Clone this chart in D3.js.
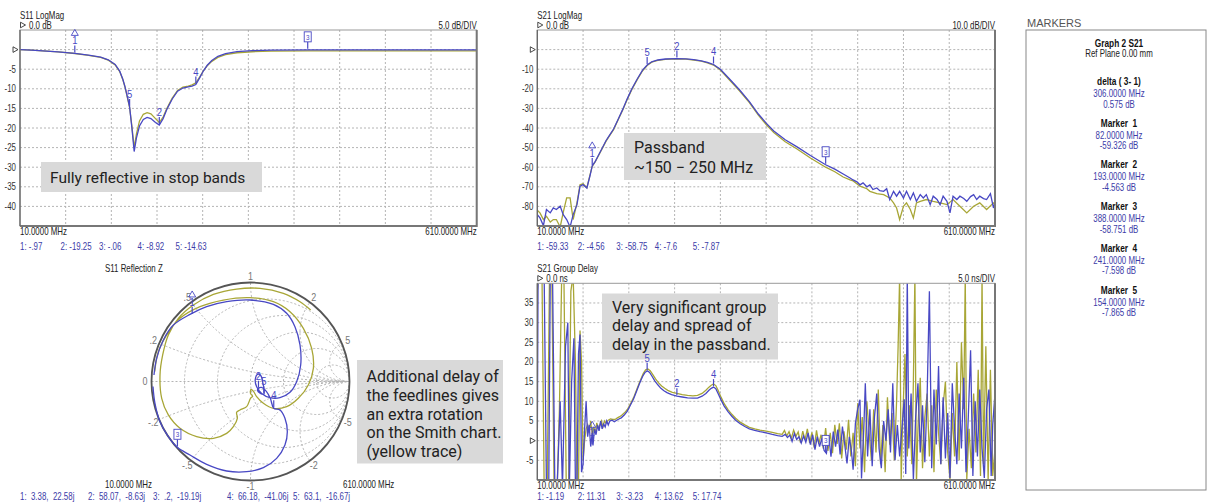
<!DOCTYPE html>
<html>
<head>
<meta charset="utf-8">
<script src="https://cdn.jsdelivr.net/npm/d3@7"></script>
<style>
  body { margin: 0; background: #fff; }
  svg { display: block; }
  .inst { font-family: 'Liberation Sans', Arial, sans-serif; }
  .note { font-family: Roboto, 'Open Sans', sans-serif; }
</style>
</head>
<body>
<div id="chart"></div>
<script>
// ---- sweep / markers ----
const sweepStart = 10, sweepStop = 610;
const gridFreqs = [70, 130, 190, 250, 310, 370, 430, 490, 550];
const markerNames = ["1", "2", "3", "4", "5"];
const markerKinds = ["delta", "plain", "box", "plain", "plain"];
const markerFreqs = [82, 193, 388, 241, 154];

// ---- S11 LogMag (dB) ----
const s11Ticks = [0, -5, -10, -15, -20, -25, -30, -35, -40];
const s11Blue = [[10,0],[25,-0.15],[40,-0.3],[60,-0.6],[82,-0.97],[100,-1.4],[116,-1.9],[126,-2.6],[135,-3.8],[141,-5.5],[145,-7.5],[148,-9.5],[151,-12],[154,-14.63],[157,-20],[160,-26],[163,-22.5],[167,-19.5],[172,-17.8],[177,-17.3],[182,-17.6],[188,-18.6],[193,-19.25],[198,-17.6],[203,-15.2],[210,-12.6],[217,-10.6],[224,-9.8],[231,-9.5],[236,-9.3],[241,-8.92],[246,-7.2],[251,-5.4],[256,-4.0],[262,-2.8],[270,-1.7],[280,-1.0],[295,-0.5],[315,-0.25],[340,-0.12],[388,-0.06],[450,-0.05],[530,-0.05],[610,-0.05]];
const s11Yellow = [[10,0],[25,-0.15],[40,-0.3],[60,-0.6],[82,-1.0],[100,-1.45],[116,-2.0],[126,-2.7],[135,-3.9],[141,-5.6],[145,-7.6],[148,-9.6],[151,-12.2],[154,-14.8],[157,-19.5],[160,-25],[163,-21.5],[167,-18.2],[172,-16.5],[177,-16.1],[182,-16.4],[188,-17.6],[193,-18.6],[198,-17.2],[203,-15.0],[210,-12.4],[217,-10.4],[224,-9.6],[231,-9.3],[236,-9.0],[241,-8.5],[246,-7.0],[251,-5.4],[256,-4.1],[262,-3.0],[270,-2.0],[280,-1.3],[295,-0.8],[315,-0.55],[340,-0.4],[388,-0.32],[450,-0.3],[530,-0.3],[610,-0.3]];
const s11MarkerVals = [-0.97, -19.25, -0.06, -8.92, -14.63];
const s11Readout = ["1: -.97", "2: -19.25", "3: -.06", "4: -8.92", "5: -14.63"];

// ---- S21 LogMag (dB) ----
const s21Ticks = [0, -10, -20, -30, -40, -50, -60, -70, -80];
const s21Blue = [[10,-84.2],[13.5,-85.9],[18,-89.8],[22,-81.6],[27,-83.3],[31,-80.8],[35,-81.6],[40,-79.9],[44,-84.2],[48.5,-86.7],[53,-90.5],[57,-84.2],[62,-79.1],[66,-69.7],[70,-68.9],[75,-70.6],[79,-64.5],[82,-59.3],[86,-57],[90,-54],[95,-50.3],[100,-46.5],[105,-43.5],[110,-40.5],[116,-35.5],[122,-30.5],[128,-25],[134,-20],[141,-15],[148,-10.5],[154,-7.87],[160,-6.2],[168,-5.3],[178,-4.8],[193,-4.56],[205,-4.7],[215,-5.1],[225,-5.7],[233,-6.5],[241,-7.6],[250,-10],[262,-15],[275,-20.5],[288,-26.5],[300,-33],[310,-37.5],[320,-41.5],[335,-46],[350,-49.5],[368,-54],[388,-58.75],[400,-61],[411,-63.5],[420,-65.5],[424,-66.5],[429,-67.5],[433,-69],[437,-68],[442,-70],[446,-69],[450,-71.4],[455,-70.6],[459,-72],[464,-72.3],[468,-71],[472,-76.5],[477,-72.3],[481,-74.8],[485,-72.3],[490,-75.7],[494,-72.3],[499,-76.5],[503,-73.1],[507,-77.4],[512,-74],[516,-75.7],[520,-74],[525,-79.1],[529,-74.8],[534,-76.5],[538,-79.1],[542,-74.8],[547,-77.4],[551,-83.3],[555,-74.8],[560,-76.5],[564,-74.8],[569,-76],[573,-77.4],[578,-75],[582,-74],[586,-76.5],[590,-74.8],[595,-76],[599,-76.5],[604,-73.5],[608,-80.8],[610,-78]];
const s21Yellow = [[10,-82],[13.5,-83.3],[18,-86.7],[22,-85],[27,-88],[31,-86.7],[35,-86.7],[40,-90.5],[44,-83],[48.5,-75.7],[53,-75.7],[57,-86.7],[62,-78.2],[66,-69],[70,-68.5],[75,-70.5],[79,-64],[82,-59.6],[86,-57.2],[90,-54.3],[95,-50.5],[100,-46.8],[105,-43.8],[110,-40.8],[116,-35.8],[122,-30.8],[128,-25.3],[134,-20.3],[141,-15.3],[148,-10.8],[154,-8.1],[160,-6.4],[168,-5.5],[178,-5.0],[193,-4.75],[205,-4.9],[215,-5.3],[225,-5.9],[233,-6.8],[241,-7.9],[250,-10.4],[262,-15.5],[275,-21],[288,-27],[300,-33.6],[310,-38.2],[320,-42.3],[335,-47],[350,-50.6],[368,-55.3],[388,-60],[400,-62.3],[411,-65],[420,-66.5],[424,-67],[433,-69.7],[442,-71],[446,-72.3],[455,-73.5],[464,-74],[472,-75.7],[477,-78.2],[481,-80.8],[485,-86.7],[490,-79.9],[494,-78.2],[499,-81.6],[503,-85.9],[507,-78.2],[512,-77.4],[520,-76.5],[529,-77.4],[538,-78.2],[547,-79.1],[555,-76.5],[564,-79.9],[573,-83.3],[582,-79.9],[590,-78.2],[599,-81.6],[608,-78.2],[610,-79]];
const s21MarkerVals = [-59.33, -4.56, -58.75, -7.6, -7.87];
const s21Readout = ["1: -59.33", "2: -4.56", "3: -58.75", "4: -7.6", "5: -7.87"];

// ---- S21 Group Delay (ns) ----
const gdTicks = [35, 30, 25, 20, 15, 10, 5, 0, -5];
const gdBlue = [[10,-2],[11,42],[14,45],[17,40],[19,42],[22,-12],[25,-12],[27,42],[30,42],[33,-12],[36,-12],[40,10],[43,-12],[47,24],[50,30],[52,-12],[55,15],[58,26],[60,-12],[62,-12],[64,22],[66,27],[68,-8],[70,-6],[72,3],[74,10],[76,1],[78,4],[80,-1.5],[82,2],[83,-1.19],[85,3],[87,1.5],[89,4],[91,2.5],[93,5],[95,3],[97,4.2],[99,3.5],[101,5],[103,4],[105,5],[108,5.2],[111,4.8],[114,5.2],[117,5.5],[120,5.8],[124,6.5],[128,7.5],[132,9],[136,10.5],[140,12.5],[144,14.5],[148,16.3],[151,17.3],[154,17.74],[157,17.4],[160,16.5],[164,15.2],[168,14.2],[172,13.3],[176,12.7],[180,12.2],[186,11.7],[193,11.31],[200,11.1],[207,10.9],[214,10.8],[220,10.8],[226,11.3],[231,12.0],[235,12.8],[238,13.3],[241,13.62],[244,13.2],[247,12.0],[251,10.3],[255,8.8],[260,7.4],[265,6.2],[270,5.2],[276,4.3],[282,3.6],[288,3.0],[295,2.6],[302,2.3],[310,2.0],[318,1.6],[325,1.3],[331,1.1],[335,1.6],[338,0.8],[341,1.4],[344,-0.2],[347,1.8],[350,0.3],[353,1.0],[356,-0.6],[359,1.2],[362,-0.4],[365,2.0],[368,-1.0],[371,1.5],[374,-2.3],[377,1.0],[380,-1.5],[383,0.6],[386,-2.5],[389,-3.23],[392,1.4],[395,-4.1],[398,2.3],[401,-1.5],[404,2.8],[407,-3.5],[410,3.6],[413,-1],[416,-5.8],[419,1],[422,-3],[424,-7.4],[427,4.4],[430,8],[433,10.4],[435,-9.6],[438,3],[440,14.6],[443,-4],[446,8],[449,-6.5],[452,6],[455,12],[458,-2],[461,-7],[464,5],[467,0],[470,8],[473,-3],[476,14.6],[479,-5],[482,4],[485,-4],[488,3],[491,10.5],[493,-8.5],[495,42],[497,-2],[500,12],[503,-10],[506,6],[509,14.6],[512,-3],[515,9],[518,-5.5],[521,11],[524,38],[527,-7],[530,13],[533,-1],[536,19],[539,-6],[542,11],[545,-4.5],[548,7],[551,-9.5],[554,14.6],[557,3],[560,-6],[563,12],[566,-2],[569,16],[572,-8],[575,6],[578,23],[581,-9],[584,10],[587,-4],[590,13],[593,-2],[596,-9.5],[599,8],[602,13],[605,-9],[607,4],[610,12]];
const gdYellow = [[10,38],[13,44],[16,45],[19,-12],[23,-12],[26,42],[29,43],[32,-12],[36,-12],[39,8],[42,42],[45,40],[48,-12],[51,-12],[54,38],[57,42],[60,20],[62,-12],[64,-12],[66,28],[68,20],[70,-5],[72,0],[74,3],[76,4],[78,2],[80,5],[82,1],[84,3.5],[86,2],[88,4.5],[90,3],[92,4],[94,5],[96,3.5],[98,5],[100,4.5],[103,5.2],[106,5.5],[109,5.4],[112,5.4],[115,5.8],[118,6.1],[121,6.5],[125,7.2],[129,8.2],[133,9.7],[137,11.3],[141,13.3],[145,15.3],[149,17.1],[152,18.0],[155,18.2],[158,17.8],[161,16.9],[165,15.7],[169,14.7],[173,13.9],[177,13.3],[181,12.8],[187,12.3],[193,12.0],[200,11.7],[207,11.5],[214,11.4],[220,11.5],[226,12.0],[231,12.8],[235,13.6],[238,14.1],[241,14.4],[244,14.0],[247,12.8],[251,11.0],[255,9.4],[260,7.9],[265,6.7],[270,5.7],[276,4.7],[282,4.0],[288,3.4],[295,3.0],[302,2.7],[310,2.4],[318,2.1],[325,1.8],[331,1.6],[334,2.6],[337,1.2],[340,2.3],[343,0.6],[346,2.7],[349,1.1],[352,2.2],[355,-0.5],[358,2.4],[361,0.2],[364,3.0],[367,-0.6],[370,2.1],[373,-1.8],[376,2.6],[379,-0.8],[382,1.5],[385,-2.0],[388,3.2],[391,-2.6],[394,2.0],[397,-3.2],[400,4.0],[403,-0.8],[406,4.4],[409,-4.5],[412,2.4],[415,-2.3],[418,5.3],[421,-4.0],[424,2.0],[427,-6.5],[430,9.5],[433,-2],[436,6],[439,-8],[442,10],[445,2],[448,-5],[451,8],[454,-3],[457,13],[460,-6],[463,4],[466,-8],[469,11],[472,-1],[475,7],[478,-5],[481,10],[483,24],[485,42],[487,-10],[489,5],[492,22],[495,-4],[498,9],[501,-6],[503,15],[505,42],[507,-11],[509,3],[512,16],[515,-7],[518,6],[521,12],[524,-4],[527,9],[530,-8],[533,13],[536,2],[539,-6],[542,9],[545,15],[548,-3],[551,-10],[554,7],[557,-4],[560,20],[563,-5],[566,25],[569,8],[571,42],[573,-10],[576,3],[579,-7],[582,12],[585,-3],[588,18],[591,-9],[593,42],[595,-6],[598,24],[601,-10],[604,18],[607,-9],[610,-2]];
const gdMarkerVals = [-1.19, 11.31, -3.23, 13.62, 17.74];
const gdReadout = ["1: -1.19", "2: 11.31", "3: -3.23", "4: 13.62", "5: 17.74"];

// ---- S11 Smith chart (reflection coefficient re, im) ----
const smithGrid = [0.2, 0.5, 1, 2, 5];
const smithGridLabels = [".2", ".5", "1", "2", "5"];
const smithBlue = [[-0.975,0.066],[-0.948,0.234],[-0.880,0.419],[-0.779,0.570],[-0.611,0.678],[-0.443,0.756],[-0.241,0.806],[-0.005,0.823],[0.231,0.779],[0.365,0.689],[0.449,0.554],[0.500,0.369],[0.507,0.167],[0.466,-0.002],[0.399,-0.109],[0.298,-0.163],[0.197,-0.163],[0.113,-0.120],[0.062,-0.052],[0.048,0.020],[0.075,0.075],[0.105,0.058],[0.122,0.0],[0.135,-0.127],[0.100,-0.120],[0.070,-0.090],[0.080,-0.070],[0.110,-0.060],[0.160,-0.100],[0.200,-0.170],[0.235,-0.270],[0.298,-0.288],[0.348,-0.372],[0.372,-0.507],[0.348,-0.641],[0.264,-0.776],[0.130,-0.870],[-0.039,-0.911],[-0.241,-0.904],[-0.443,-0.837],[-0.611,-0.743],[-0.739,-0.665],[-0.830,-0.557],[-0.914,-0.406],[-0.965,-0.220],[-0.985,-0.050]];
const smithYellow = [[-0.968,0.099],[-0.931,0.301],[-0.847,0.470],[-0.712,0.638],[-0.510,0.756],[-0.274,0.823],[-0.005,0.847],[0.231,0.806],[0.399,0.705],[0.534,0.537],[0.618,0.335],[0.635,0.133],[0.584,-0.035],[0.483,-0.170],[0.365,-0.254],[0.231,-0.271],[0.130,-0.220],[0.062,-0.153],[0.030,-0.100],[0.005,-0.080],[0.000,-0.120],[0.020,-0.150],[0.000,-0.170],[-0.039,-0.254],[-0.106,-0.288],[-0.140,-0.311],[-0.133,-0.372],[-0.173,-0.456],[-0.241,-0.524],[-0.375,-0.574],[-0.544,-0.557],[-0.712,-0.473],[-0.830,-0.338],[-0.897,-0.170],[-0.914,0.066],[-0.887,0.268],[-0.830,0.470],[-0.729,0.638],[-0.577,0.773],[-0.375,0.880],[-0.140,0.934],[0.096,0.941],[0.332,0.891],[0.500,0.806],[0.608,0.722]];
const smithMarkerZ = [[3.38,22.58],[58.07,-8.63],[0.2,-19.19],[66.18,-41.06],[63.1,-16.67]];
const smithReadout = ["1:  3.38,  22.58j", "2:  58.07,  -8.63j", "3:  .2,  -19.19j", "4:  66.18,  -41.06j", "5:  63.1,  -16.67j"];
const z0 = 50;

// ---- markers panel ----
const panelHead = ["Graph 2 S21", "Ref Plane 0.00 mm"];
const panelTitles = ["delta ( 3- 1)", "Marker  1", "Marker  2", "Marker  3", "Marker  4", "Marker  5"];
const panelFreqs = ["306.0000 MHz", "82.0000 MHz", "193.0000 MHz", "388.0000 MHz", "241.0000 MHz", "154.0000 MHz"];
const panelVals = ["0.575 dB", "-59.326 dB", "-4.563 dB", "-58.751 dB", "-7.598 dB", "-7.865 dB"];

// ---- notes ----
const noteS11 = ["Fully reflective in stop bands"];
const noteS21 = ["Passband", "~150 \u2212 250 MHz"];
const noteGD = ["Very significant group", "delay and spread of", "delay in the passband."];
const noteSmith = ["Additional delay of", "the feedlines gives", "an extra rotation", "on the Smith chart.", "(yellow trace)"];

const blue = "#4848c4", yellow = "#a8a636", readBlue = "#3c3ca8", gridCol = "#b4b4b4";
const squeeze = 0.79;   // instrument font is a narrow sans

const svg = d3.select("#chart").append("svg")
  .attr("width", 1209)
  .attr("height", 502);

let clipCount = 0;

// narrow instrument-style text
function label(g, x, y, str, opt) {
  opt = opt || {};
  return g.append("text")
    .attr("transform", `translate(${x},${y}) scale(${opt.sq || squeeze},1)`)
    .attr("text-anchor", opt.anchor || "start")
    .attr("font-size", opt.size || 10)
    .attr("font-weight", opt.bold ? "bold" : null)
    .attr("fill", opt.fill || "#222")
    .attr("xml:space", "preserve")
    .text(str);
}

function refTriangle(g, x, y) {
  g.append("path")
    .attr("d", `M${x},${y - 2.8} L${x + 5},${y} L${x},${y + 2.8} Z`)
    .attr("fill", "none").attr("stroke", "#333").attr("stroke-width", 0.9);
}

function drawMarker(g, px, py, i, tick) {
  const kind = markerKinds[i];
  const t = tick || 8;
  g.append("line")
    .attr("x1", px).attr("x2", px).attr("y1", py - 1).attr("y2", py - t)
    .attr("stroke", blue).attr("stroke-width", 1.2);
  if (kind === "box") {
    g.append("rect")
      .attr("x", px - 3.5).attr("y", py - t - 10).attr("width", 7).attr("height", 10)
      .attr("fill", "#fff").attr("stroke", blue).attr("stroke-width", 0.9);
    label(g, px, py - t - 2, markerNames[i], { anchor: "middle", size: 8, fill: blue });
  } else {
    label(g, px, py - t - 1, markerNames[i], { anchor: "middle", size: 10.5, fill: blue, sq: 0.9 });
    if (kind === "delta") {
      const ty = py - t - 13;
      g.append("path")
        .attr("d", `M${px},${ty - 3} L${px + 3.5},${ty + 3} L${px - 3.5},${ty + 3} Z`)
        .attr("fill", "none").attr("stroke", blue).attr("stroke-width", 0.9);
    }
  }
}

function rectPlot(o) {
  const x = d3.scaleLinear().domain([sweepStart, sweepStop]).range([o.left, o.left + o.width]);
  const y = d3.scaleLinear().domain(o.yDomain).range([o.top + o.height, o.top]);
  const g = svg.append("g").attr("class", "inst");

  // grid
  g.selectAll(".vg").data(gridFreqs).join("line")
    .attr("x1", d => x(d)).attr("x2", d => x(d))
    .attr("y1", o.top).attr("y2", o.top + o.height)
    .attr("stroke", gridCol).attr("stroke-dasharray", "2,2");
  g.selectAll(".hg").data(o.yTicks).join("line")
    .attr("x1", o.left).attr("x2", o.left + o.width)
    .attr("y1", d => y(d)).attr("y2", d => y(d))
    .attr("stroke", gridCol).attr("stroke-dasharray", "2,2");

  // y labels
  o.yTicks.filter(d => d !== 0).forEach(d => {
    label(g, o.left - 4, y(d) + 3.5, String(d), { anchor: "end", fill: "#333" });
  });
  refTriangle(g, o.left - 7, y(0));

  // headers
  label(g, o.left, o.top - 11.5, o.title);
  refTriangle(g, o.left + 0.5, o.top - 5);
  label(g, o.left + 9, o.top - 1.5, o.refText);
  label(g, o.left + o.width, o.top - 1.5, o.scaleText, { anchor: "end" });
  label(g, o.left, o.top + o.height + 8.5, "10.0000 MHz");
  label(g, o.left + o.width, o.top + o.height + 8.5, "610.0000 MHz", { anchor: "end" });

  // readouts
  o.readout.forEach((d, i) => {
    label(g, o.left + [0, 40.5, 79, 117.5, 155.5][i], o.top + o.height + o.roDy, d, { fill: readBlue });
  });

  // note box (under traces)
  const nb = o.note;
  g.append("rect").attr("x", nb.x).attr("y", nb.y).attr("width", nb.w).attr("height", nb.h)
    .attr("fill", "#d9d9d9");
  g.append("g").attr("class", "note").selectAll("text").data(nb.lines).join("text")
    .attr("x", nb.x + nb.pad).attr("y", (d, i) => nb.y + nb.base + i * nb.lh)
    .attr("font-size", nb.size).attr("fill", "#222").text(d => d);

  // traces
  const id = "clip" + (clipCount++);
  svg.append("clipPath").attr("id", id).append("rect")
    .attr("x", o.left).attr("y", o.top).attr("width", o.width).attr("height", o.height);
  const line = d3.line().x(d => x(d[0])).y(d => y(d[1]));
  const tg = g.append("g").attr("clip-path", `url(#${id})`);
  tg.append("path").datum(o.yellow).attr("d", line)
    .attr("fill", "none").attr("stroke", yellow).attr("stroke-width", 1.3);
  tg.append("path").datum(o.blue).attr("d", line)
    .attr("fill", "none").attr("stroke", blue).attr("stroke-width", 1.3);

  // frame
  g.append("rect").attr("x", o.left).attr("y", o.top).attr("width", o.width).attr("height", o.height)
    .attr("fill", "none").attr("stroke", "#9a9a9a");
  g.append("path")
    .attr("d", `M${o.left},${o.top + o.height} H${o.left + o.width} V${o.top}`)
    .attr("fill", "none").attr("stroke", "#777").attr("stroke-width", 2);
  g.append("line").attr("x1", o.left).attr("x2", o.left).attr("y1", o.top).attr("y2", o.top + o.height)
    .attr("stroke", "#666").attr("stroke-width", 1.3);

  // markers
  markerFreqs.forEach((f, i) => {
    drawMarker(g, x(f), y(o.markerVals[i]), i);
  });
}

rectPlot({
  left: 20, top: 30, width: 456.7, height: 196, yDomain: [-45, 5], yTicks: s11Ticks,
  title: "S11 LogMag", refText: "0.0 dB", scaleText: "5.0 dB/DIV", roDy: 23.5,
  blue: s11Blue, yellow: s11Yellow, markerVals: s11MarkerVals, readout: s11Readout,
  note: { x: 41, y: 162, w: 221, h: 30, pad: 9, base: 21, lh: 20, size: 15.5, lines: noteS11 }
});

rectPlot({
  left: 537.3, top: 30, width: 457.7, height: 196, yDomain: [-90, 10], yTicks: s21Ticks,
  title: "S21 LogMag", refText: "0.0 dB", scaleText: "10.0 dB/DIV", roDy: 23.5,
  blue: s21Blue, yellow: s21Yellow, markerVals: s21MarkerVals, readout: s21Readout,
  note: { x: 624, y: 133, w: 142, h: 47, pad: 10, base: 19.5, lh: 20, size: 16, lines: noteS21 }
});

rectPlot({
  left: 537.3, top: 283.3, width: 457.7, height: 196.7, yDomain: [-10, 40], yTicks: gdTicks,
  title: "S21 Group Delay", refText: "0.0 ns", scaleText: "5.0 ns/DIV", roDy: 19.5,
  blue: gdBlue, yellow: gdYellow, markerVals: gdMarkerVals, readout: gdReadout,
  note: { x: 602, y: 293.5, w: 176, h: 66, pad: 10, base: 19.5, lh: 18.4, size: 16, lines: noteGD }
});

// ---- Smith chart ----
(function smith() {
  const cx = 250.5, cy = 381.5, R = 99;
  const sx = d3.scaleLinear().domain([-1, 1]).range([cx - R, cx + R]);
  const sy = d3.scaleLinear().domain([-1, 1]).range([cy + R, cy - R]);
  const g = svg.append("g").attr("class", "inst");

  svg.append("clipPath").attr("id", "smithclip").append("circle")
    .attr("cx", cx).attr("cy", cy).attr("r", R);
  const grid = g.append("g").attr("clip-path", "url(#smithclip)")
    .attr("fill", "none").attr("stroke", gridCol).attr("stroke-dasharray", "2,2");
  grid.selectAll(".rc").data(smithGrid).join("circle")
    .attr("cx", d => sx(d / (1 + d))).attr("cy", sy(0)).attr("r", d => R / (1 + d));
  grid.selectAll(".xc").data(smithGrid.concat(smithGrid.map(d => -d))).join("circle")
    .attr("cx", sx(1)).attr("cy", d => sy(1 / d)).attr("r", d => R / Math.abs(d));
  grid.append("line").attr("x1", cx - R).attr("x2", cx + R).attr("y1", cy).attr("y2", cy);

  // reactance labels around the rim
  const labs = [{ v: 0, t: "0" }];
  smithGrid.forEach((d, i) => {
    labs.push({ v: d, t: smithGridLabels[i] });
    labs.push({ v: -d, t: "-" + smithGridLabels[i] });
  });
  labs.forEach(d => {
    const re = (d.v * d.v - 1) / (d.v * d.v + 1);
    const im = 2 * d.v / (d.v * d.v + 1);
    label(g, sx(re * 1.065), sy(im * 1.065) + 3.5, d.t, { anchor: "middle", fill: "#777", sq: 0.9 });
  });

  g.append("circle").attr("cx", cx).attr("cy", cy).attr("r", R)
    .attr("fill", "none").attr("stroke", "#555").attr("stroke-width", 1.8);

  const line = d3.line().x(d => sx(d[0])).y(d => sy(d[1])).curve(d3.curveCatmullRom);
  g.append("path").datum(smithYellow).attr("d", line)
    .attr("fill", "none").attr("stroke", yellow).attr("stroke-width", 1.3);
  g.append("path").datum(smithBlue).attr("d", line)
    .attr("fill", "none").attr("stroke", blue).attr("stroke-width", 1.3);

  smithMarkerZ.forEach((z, i) => {
    const zr = z[0] / z0, zi = z[1] / z0;
    const nr = zr - 1, ni = zi, dr = zr + 1, di = zi;
    const den = dr * dr + di * di;
    const gr = (nr * dr + ni * di) / den, gi = (ni * dr - nr * di) / den;
    drawMarker(g, sx(gr), sy(gi), i);
  });

  label(g, 105, 272, "S11 Reflection Z");
  label(g, 105, 488, "10.0000 MHz");
  label(g, 343, 488, "610.0000 MHz");
  smithReadout.forEach((d, i) => {
    label(g, [20, 88, 153, 227, 293][i], 500, d, { fill: readBlue });
  });

  const nb = svg.append("g").attr("class", "note");
  nb.append("rect").attr("x", 357).attr("y", 360).attr("width", 146).attr("height", 103.5).attr("fill", "#d9d9d9");
  nb.selectAll("text").data(noteSmith).join("text")
    .attr("x", 366.5).attr("y", (d, i) => 382 + i * 18.8)
    .attr("font-size", 16).attr("fill", "#222").text(d => d);
})();

// ---- markers panel ----
(function panel() {
  const g = svg.append("g").attr("class", "inst");
  label(g, 1027, 26.5, "MARKERS", { size: 11, fill: "#555", sq: 1 });
  g.append("rect").attr("x", 1026).attr("y", 30).attr("width", 180).attr("height", 460)
    .attr("fill", "#fff").attr("stroke", "#888");
  const cxp = 1119;
  label(g, cxp, 46.5, panelHead[0], { anchor: "middle", size: 10.5, bold: true, fill: "#111" });
  label(g, cxp, 56.5, panelHead[1], { anchor: "middle", size: 10, fill: "#222" });
  panelTitles.forEach((t, i) => {
    const by = 85 + i * 41.7;
    label(g, cxp, by, t, { anchor: "middle", size: 10.5, bold: true, fill: "#111" });
    label(g, cxp, by + 12, panelFreqs[i], { anchor: "middle", size: 10, fill: readBlue });
    label(g, cxp, by + 22.5, panelVals[i], { anchor: "middle", size: 10, fill: readBlue });
  });
})();
</script>
</body>
</html>
